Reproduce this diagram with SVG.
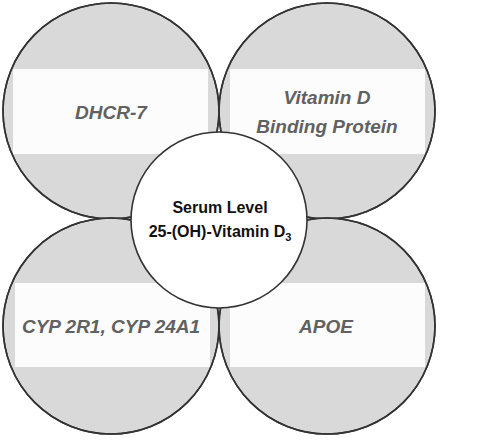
<svg xmlns="http://www.w3.org/2000/svg" width="478" height="441" viewBox="0 0 478 441">
<defs>
<style>
.outer{fill:#d9d9d9;stroke:#333333;stroke-width:1.6}
.band{fill:#fcfcfc}
.lbl{font-family:"Liberation Sans",Arial,sans-serif;font-weight:bold;font-style:italic;font-size:19px;fill:#616161;text-anchor:middle}
.center{fill:#ffffff;stroke:#333333;stroke-width:1.6}
.ctext{font-family:"Liberation Sans",Arial,sans-serif;font-weight:bold;font-size:16px;fill:#111111;text-anchor:middle}
</style>
<clipPath id="c1"><circle cx="111" cy="111" r="108"/></clipPath>
<clipPath id="c2"><circle cx="327" cy="111" r="108"/></clipPath>
<clipPath id="c3"><circle cx="111" cy="326" r="108"/></clipPath>
<clipPath id="c4"><circle cx="327" cy="326" r="108"/></clipPath>
</defs>
<rect width="478" height="441" fill="#ffffff"/>
<g id="connectors"></g>
<g id="dhcr7">
<circle class="outer" cx="111" cy="111" r="108"/>
<rect class="band" x="13" y="69" width="195" height="85" clip-path="url(#c1)"/>
<circle cx="111" cy="111" r="108" fill="none" stroke="#333333" stroke-width="1.6"/>
<text class="lbl" x="111" y="119">DHCR-7</text>
</g>
<g id="vdbp">
<circle class="outer" cx="327" cy="111" r="108"/>
<rect class="band" x="230" y="69" width="195" height="85" clip-path="url(#c2)"/>
<circle cx="327" cy="111" r="108" fill="none" stroke="#333333" stroke-width="1.6"/>
<text class="lbl" x="327" y="104">Vitamin D</text>
<text class="lbl" x="327" y="133">Binding Protein</text>
</g>
<g id="cyp">
<circle class="outer" cx="111" cy="326" r="108"/>
<rect class="band" x="15" y="283" width="195" height="84" clip-path="url(#c3)"/>
<circle cx="111" cy="326" r="108" fill="none" stroke="#333333" stroke-width="1.6"/>
<text class="lbl" x="111" y="333">CYP 2R1, CYP 24A1</text>
</g>
<g id="apoe">
<circle class="outer" cx="327" cy="326" r="108"/>
<rect class="band" x="230" y="283" width="195" height="84" clip-path="url(#c4)"/>
<circle cx="327" cy="326" r="108" fill="none" stroke="#333333" stroke-width="1.6"/>
<text class="lbl" x="326" y="333">APOE</text>
</g>
<g id="serum">
<circle class="center" cx="219" cy="220" r="88"/>
<text class="ctext" x="220" y="213">Serum Level</text>
<text class="ctext" x="220" y="237">25-(OH)-Vitamin D<tspan font-size="11" dy="4">3</tspan></text>
</g>
</svg>
